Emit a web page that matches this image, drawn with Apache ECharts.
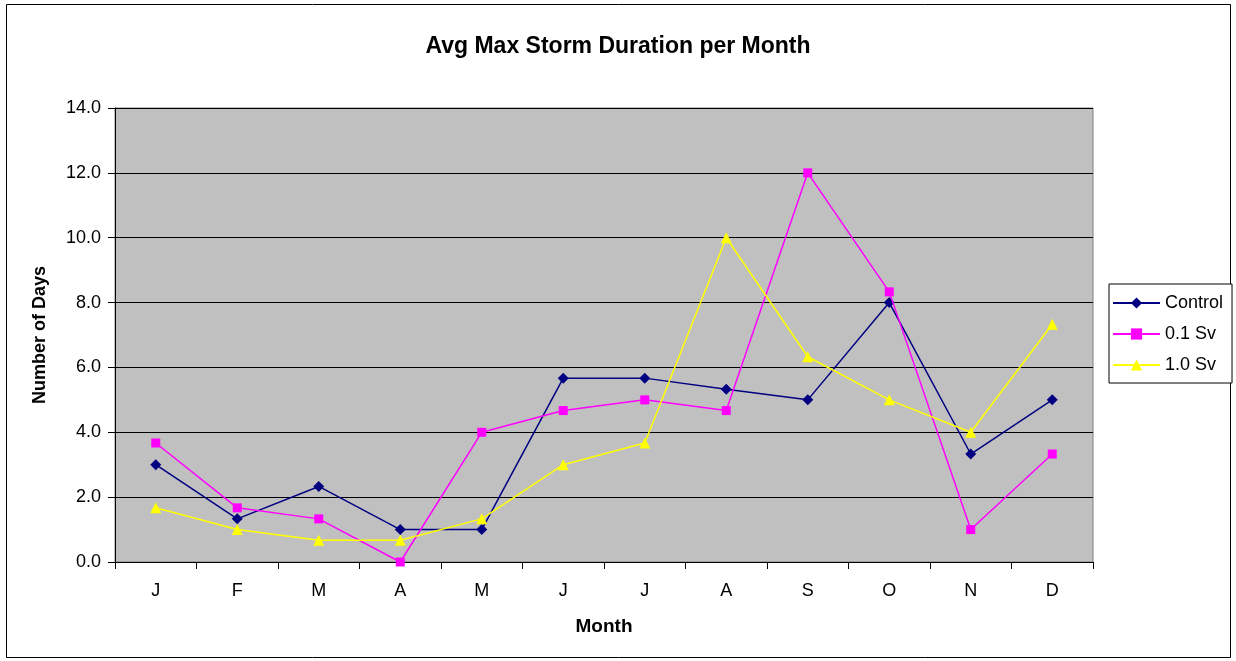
<!DOCTYPE html>
<html>
<head>
<meta charset="utf-8">
<script src="https://cdn.jsdelivr.net/npm/echarts@6/dist/echarts.min.js"></script>
<style>
    html, body { margin: 0; padding: 0; background: #fff; }
    .chart { width: 1236px; height: 661px; }
</style>
</head>
<body>
<div class="chart"></div>
<script>
// 月份
var months = ['J', 'F', 'M', 'A', 'M', 'J', 'J', 'A', 'S', 'O', 'N', 'D'];
// 各序列数据
var control = [3.0, 1.33, 2.33, 1.0, 1.0, 5.67, 5.67, 5.33, 5.0, 8.0, 3.33, 5.0];
var sv01 = [3.67, 1.67, 1.33, 0.0, 4.0, 4.67, 5.0, 4.67, 12.0, 8.33, 1.0, 3.33];
var sv10 = [1.67, 1.0, 0.67, 0.67, 1.33, 3.0, 3.67, 10.0, 6.33, 5.0, 4.0, 7.33];

(function () {
    var myChart = echarts.init(document.querySelector('.chart'));
    var font = 'Liberation Sans, Arial, sans-serif';
    var option = {
        backgroundColor: '#fff',
        textStyle: { fontFamily: font },
        animation: false,
        // 外边框
        graphic: [{
            type: 'rect',
            shape: { x: 6.5, y: 4.5, width: 1224, height: 653 },
            style: { fill: 'none', stroke: '#000', lineWidth: 1 },
            z: -1
        }],
        title: {
            text: 'Avg Max Storm Duration per Month',
            left: 'center',
            top: 30,
            textStyle: { fontSize: 23, fontWeight: 'bold', color: '#000', fontFamily: font }
        },
        legend: {
            orient: 'vertical',
            left: 1109,
            top: 284,
            padding: [10, 9, 9, 3],
            itemGap: 13,
            itemWidth: 47,
            itemHeight: 14,
            borderColor: '#000',
            borderWidth: 1,
            backgroundColor: '#fff',
            textStyle: { fontSize: 18, color: '#000', fontFamily: font },
            data: ['Control', '0.1 Sv', '1.0 Sv']
        },
        grid: {
            left: 115,
            right: 143,
            top: 108,
            bottom: 99,
            show: true,
            backgroundColor: '#c0c0c0',
            borderColor: '#808080',
            borderWidth: 1
        },
        xAxis: {
            type: 'category',
            data: months,
            name: 'Month',
            nameLocation: 'middle',
            nameGap: 55,
            nameTextStyle: { fontSize: 19, fontWeight: 'bold', color: '#000' },
            axisLine: { lineStyle: { color: '#000' } },
            axisTick: { show: true, length: 7, lineStyle: { color: '#000' } },
            axisLabel: { color: '#000', fontSize: 18, margin: 20 }
        },
        yAxis: {
            type: 'value',
            min: 0,
            max: 14,
            interval: 2,
            name: 'Number of Days',
            nameLocation: 'middle',
            nameGap: 66,
            nameTextStyle: { fontSize: 18, fontWeight: 'bold', color: '#000' },
            axisLine: { show: true, lineStyle: { color: '#000' } },
            axisTick: { show: true, length: 7, lineStyle: { color: '#000' } },
            axisLabel: {
                color: '#000',
                fontSize: 18,
                margin: 14,
                formatter: function (v) { return v.toFixed(1); }
            },
            splitLine: { lineStyle: { color: '#000', width: 1 } }
        },
        series: [{
            name: 'Control',
            type: 'line',
            data: control,
            symbol: 'diamond',
            symbolSize: 11,
            color: '#000080',
            lineStyle: { color: '#000080', width: 1.5 },
            itemStyle: { color: '#000080' },
            z: 3
        }, {
            name: '0.1 Sv',
            type: 'line',
            data: sv01,
            symbol: 'rect',
            symbolSize: 9,
            color: '#ff00ff',
            lineStyle: { color: '#ff00ff', width: 1.5 },
            itemStyle: { color: '#ff00ff' },
            z: 4
        }, {
            name: '1.0 Sv',
            type: 'line',
            data: sv10,
            symbol: 'triangle',
            symbolSize: 11,
            color: '#ffff00',
            lineStyle: { color: '#ffff00', width: 1.5 },
            itemStyle: { color: '#ffff00' },
            z: 5
        }]
    };
    myChart.setOption(option);
})();
</script>
</body>
</html>
